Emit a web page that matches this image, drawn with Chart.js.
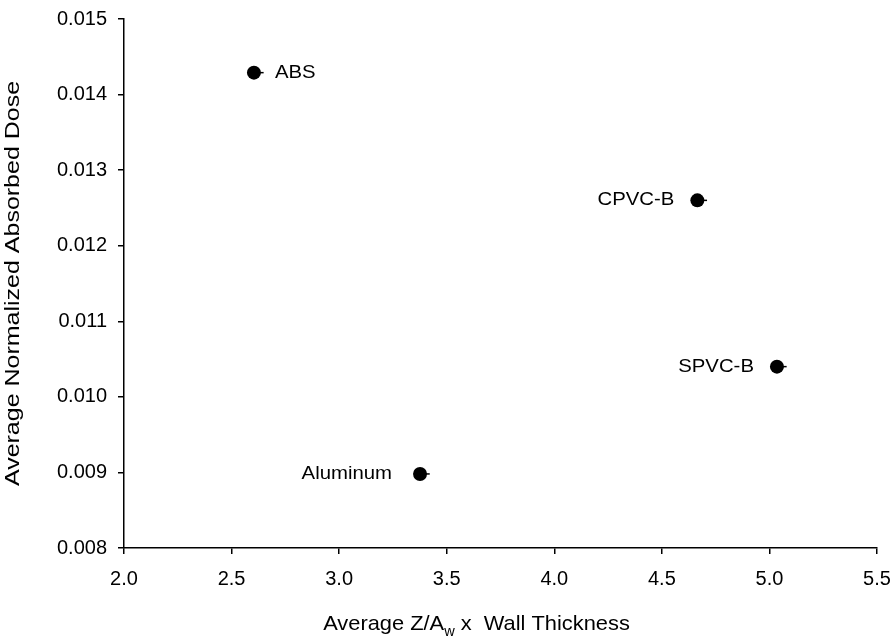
<!DOCTYPE html>
<html>
<head>
<meta charset="utf-8">
<script src="https://cdn.jsdelivr.net/npm/chart.js@4.4.0/dist/chart.umd.min.js"></script>
<style>
  html, body { margin: 0; padding: 0; background: #fff; }
  #wrap { width: 896px; height: 642px; }
</style>
</head>
<body>
<div id="wrap"><canvas id="myChart" width="896" height="642"></canvas></div>
<script>
// materials and their measured values
const materials = ["ABS", "CPVC-B", "SPVC-B", "Aluminum"];
const zaThickness = [2.604, 4.665, 5.035, 3.376];
const normDose = [0.01429, 0.01260, 0.01040, 0.00898];
const zaError = [0.045, 0.045, 0.045, 0.045];
// which side of the dot each name sits on, and how far off
const labelSide = ["right", "left", "left", "left"];
const labelGap = [21, 23, 23, 28];

const xTicks = [2.0, 2.5, 3.0, 3.5, 4.0, 4.5, 5.0, 5.5];
const yTicks = [0.008, 0.009, 0.010, 0.011, 0.012, 0.013, 0.014, 0.015];

const fontFamily = "'Liberation Sans', Arial, sans-serif";
const tickFont = 20;

let points = [];
for (let i = 0; i < materials.length; i++) {
    points.push({ x: zaThickness[i], y: normDose[i] });
}

// draws text a bit wider than the font's own width
function wideText(ctx, text, x, y, align, stretch) {
    ctx.save();
    ctx.translate(x, y);
    ctx.scale(stretch, 1);
    ctx.textAlign = align;
    ctx.fillText(text, 0, 0);
    ctx.restore();
}

// keep the plot box fixed, labels may hang into the padding
function fixScale(scale) {
    if (scale.axis == "x") {
        scale.height = 94;
    } else {
        scale.width = 124;
    }
    scale.paddingTop = 0;
    scale.paddingBottom = 0;
    scale.paddingLeft = 0;
    scale.paddingRight = 0;
}

// small error whiskers + point names
const markLabels = {
    id: "markLabels",
    afterDatasetsDraw(chart) {
        const ctx = chart.ctx;
        const xs = chart.scales.x;
        const ys = chart.scales.y;
        ctx.save();
        ctx.strokeStyle = "#000";
        ctx.lineWidth = 1.5;
        for (let i = 0; i < materials.length; i++) {
            let py = ys.getPixelForValue(normDose[i]);
            let x0 = xs.getPixelForValue(zaThickness[i]);
            let x1 = xs.getPixelForValue(zaThickness[i] + zaError[i]);
            ctx.beginPath();
            ctx.moveTo(x0, py);
            ctx.lineTo(x1, py);
            ctx.stroke();
        }
        ctx.fillStyle = "#000";
        ctx.font = "18px " + fontFamily;
        ctx.textBaseline = "middle";
        for (let i = 0; i < materials.length; i++) {
            let px = xs.getPixelForValue(zaThickness[i]);
            let py = ys.getPixelForValue(normDose[i]);
            if (labelSide[i] == "right") {
                wideText(ctx, materials[i], px + labelGap[i], py, "left", 1.13);
            } else {
                wideText(ctx, materials[i], px - labelGap[i], py, "right", 1.13);
            }
        }
        ctx.restore();
    }
};

// axis titles (x title needs a subscript)
const axisTitles = {
    id: "axisTitles",
    afterDraw(chart) {
        const ctx = chart.ctx;
        const area = chart.chartArea;
        ctx.save();
        ctx.fillStyle = "#000";
        ctx.textBaseline = "alphabetic";

        const big = "21px " + fontFamily;
        const small = "14px " + fontFamily;
        const stretchX = 1.04;
        const parts = [["Average Z/A", big, 0], ["w", small, 6], [" x  Wall Thickness", big, 0]];
        let total = 0;
        for (const p of parts) {
            ctx.font = p[1];
            total += ctx.measureText(p[0]).width;
        }
        ctx.save();
        ctx.translate((area.left + area.right) / 2 - 24, 630);
        ctx.scale(stretchX, 1);
        let x = -total / 2;
        ctx.textAlign = "left";
        for (const p of parts) {
            ctx.font = p[1];
            ctx.fillText(p[0], x, p[2]);
            x += ctx.measureText(p[0]).width;
        }
        ctx.restore();

        ctx.translate(19, (area.top + area.bottom) / 2);
        ctx.rotate(-Math.PI / 2);
        ctx.font = big;
        wideText(ctx, "Average Normalized Absorbed Dose", 0, 0, "center", 1.19);
        ctx.restore();
    }
};

const ctx = document.getElementById("myChart");
const myChart = new Chart(ctx, {
    type: "scatter",
    data: {
        datasets: [{
            data: points,
            pointRadius: 7,
            pointHoverRadius: 7,
            backgroundColor: "#000",
            borderColor: "#000",
            borderWidth: 0
        }]
    },
    options: {
        responsive: false,
        animation: false,
        layout: { padding: { top: 19, right: 19, left: 0, bottom: 0 } },
        plugins: {
            legend: { display: false },
            tooltip: { enabled: false }
        },
        scales: {
            x: {
                type: "linear",
                min: xTicks[0],
                max: xTicks[xTicks.length - 1],
                afterBuildTicks: (scale) => { scale.ticks = xTicks.map(v => ({ value: v })); },
                afterFit: fixScale,
                ticks: {
                    color: "#000",
                    font: { family: fontFamily, size: tickFont },
                    padding: 13,
                    maxRotation: 0,
                    callback: (v) => Number(v).toFixed(1)
                },
                grid: { drawOnChartArea: false, drawTicks: true, tickLength: 6, color: "#000", lineWidth: 1.5 },
                border: { display: true, color: "#000", width: 1.5 }
            },
            y: {
                type: "linear",
                min: yTicks[0],
                max: yTicks[yTicks.length - 1],
                afterBuildTicks: (scale) => { scale.ticks = yTicks.map(v => ({ value: v })); },
                afterFit: fixScale,
                ticks: {
                    color: "#000",
                    font: { family: fontFamily, size: tickFont },
                    padding: 11,
                    callback: (v) => Number(v).toFixed(3)
                },
                grid: { drawOnChartArea: false, drawTicks: true, tickLength: 6, color: "#000", lineWidth: 1.5 },
                border: { display: true, color: "#000", width: 1.5 }
            }
        }
    },
    plugins: [markLabels, axisTitles]
});
</script>
</body>
</html>
